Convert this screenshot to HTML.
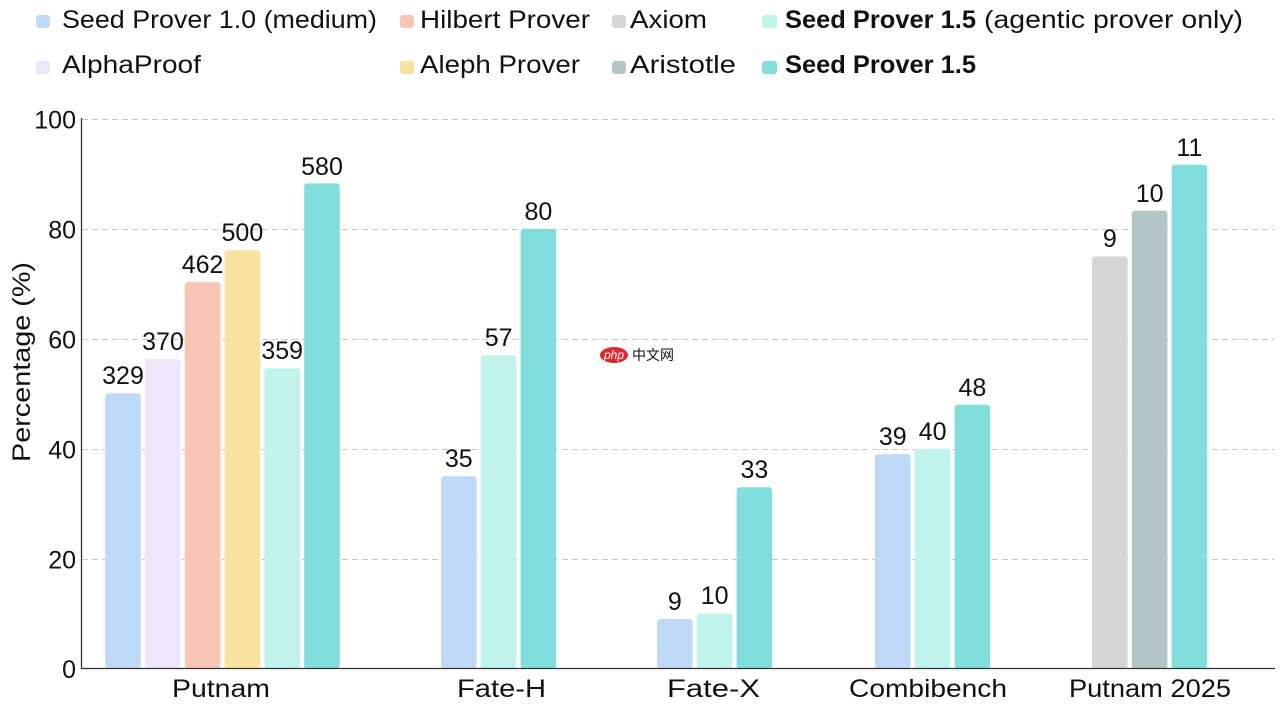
<!DOCTYPE html>
<html><head><meta charset="utf-8"><style>
html,body{margin:0;padding:0;background:#fff;}
svg{display:block;}
text{font-family:"Liberation Sans","Noto Sans CJK SC",sans-serif;fill:#111;}
</style></head><body>
<svg width="1280" height="712" viewBox="0 0 1280 712" xmlns="http://www.w3.org/2000/svg">
<!-- Legend -->
<g font-size="25">
<rect x="36" y="15" width="14" height="13" rx="3" fill="#bfd9f8"/>
<text x="62" y="28" textLength="315" lengthAdjust="spacingAndGlyphs">Seed Prover 1.0 (medium)</text>
<rect x="400" y="15" width="14" height="13" rx="3" fill="#f9c5b4"/>
<text x="420" y="28" textLength="170" lengthAdjust="spacingAndGlyphs">Hilbert Prover</text>
<rect x="612" y="15" width="14" height="13" rx="3" fill="#d5d5d5"/>
<text x="630" y="28" textLength="77" lengthAdjust="spacingAndGlyphs">Axiom</text>
<rect x="762" y="15" width="15" height="13" rx="3" fill="#c0f3eb"/>
<text x="785" y="28" font-weight="bold" textLength="191" lengthAdjust="spacingAndGlyphs">Seed Prover 1.5</text>
<text x="984" y="28" textLength="259" lengthAdjust="spacingAndGlyphs">(agentic prover only)</text>

<rect x="36" y="61" width="14" height="13" rx="3" fill="#ebe6fb"/>
<text x="62" y="73" textLength="139" lengthAdjust="spacingAndGlyphs">AlphaProof</text>
<rect x="400" y="61" width="14" height="13" rx="3" fill="#f8e29e"/>
<text x="420" y="73" textLength="160" lengthAdjust="spacingAndGlyphs">Aleph Prover</text>
<rect x="612" y="61" width="14" height="13" rx="3" fill="#b3c6c8"/>
<text x="630" y="73" textLength="106" lengthAdjust="spacingAndGlyphs">Aristotle</text>
<rect x="762" y="61" width="15" height="13" rx="3" fill="#80dedd"/>
<text x="785" y="73" font-weight="bold" textLength="191" lengthAdjust="spacingAndGlyphs">Seed Prover 1.5</text>
</g>

<!-- Gridlines -->
<g stroke="#c8c8c8" stroke-width="1" stroke-dasharray="6,4">
<line x1="82" y1="119.5" x2="1274" y2="119.5"/>
<line x1="82" y1="229.5" x2="1274" y2="229.5"/>
<line x1="82" y1="339.5" x2="1274" y2="339.5"/>
<line x1="82" y1="449.5" x2="1274" y2="449.5"/>
<line x1="82" y1="559.5" x2="1274" y2="559.5"/>
</g>

<!-- Bars -->
<g>
<!-- Putnam -->
<rect x="105.2" y="393.3" width="35.6" height="275.2" rx="3" fill="#bfd9f8"/>
<rect x="145" y="359.0" width="35.6" height="309.5" rx="3" fill="#efe6fc"/>
<rect x="184.8" y="282.1" width="35.6" height="386.4" rx="3" fill="#f9c5b4"/>
<rect x="224.6" y="250.3" width="35.6" height="418.2" rx="3" fill="#f8e29e"/>
<rect x="264.4" y="368.3" width="35.6" height="300.2" rx="3" fill="#c0f3eb"/>
<rect x="304.2" y="183.4" width="35.6" height="485.1" rx="3" fill="#80dedd"/>
<!-- Fate-H -->
<rect x="441" y="476.2" width="35.6" height="192.3" rx="3" fill="#bfd9f8"/>
<rect x="480.8" y="355.3" width="35.6" height="313.2" rx="3" fill="#c0f3eb"/>
<rect x="520.6" y="228.9" width="35.6" height="439.6" rx="3" fill="#80dedd"/>
<!-- Fate-X -->
<rect x="657" y="619.0" width="35.6" height="49.5" rx="3" fill="#bfd9f8"/>
<rect x="696.8" y="613.6" width="35.6" height="54.9" rx="3" fill="#c0f3eb"/>
<rect x="736.6" y="487.2" width="35.6" height="181.3" rx="3" fill="#80dedd"/>
<!-- Combibench -->
<rect x="875" y="454.2" width="35.6" height="214.3" rx="3" fill="#bfd9f8"/>
<rect x="914.8" y="448.7" width="35.6" height="219.8" rx="3" fill="#c0f3eb"/>
<rect x="954.6" y="404.7" width="35.6" height="263.8" rx="3" fill="#80dedd"/>
<!-- Putnam 2025 -->
<rect x="1092" y="256.4" width="35.6" height="412.1" rx="3" fill="#d5d5d5"/>
<rect x="1131.8" y="210.6" width="35.6" height="457.9" rx="3" fill="#b3c6c8"/>
<rect x="1171.6" y="164.8" width="35.6" height="503.7" rx="3" fill="#80dedd"/>
</g>

<!-- Value labels -->
<g font-size="25" text-anchor="middle">
<text x="123" y="384">329</text>
<text x="163" y="350">370</text>
<text x="202.6" y="273">462</text>
<text x="242.4" y="241">500</text>
<text x="282.2" y="359">359</text>
<text x="322" y="175">580</text>
<text x="458.8" y="467">35</text>
<text x="498.6" y="346">57</text>
<text x="538.4" y="220">80</text>
<text x="674.8" y="610">9</text>
<text x="714.6" y="604">10</text>
<text x="754.4" y="478">33</text>
<text x="892.8" y="445">39</text>
<text x="932.6" y="440">40</text>
<text x="972.4" y="396">48</text>
<text x="1109.8" y="247">9</text>
<text x="1149.6" y="202">10</text>
<text x="1189.4" y="156">11</text>
</g>

<!-- Axes -->
<line x1="81.5" y1="118" x2="81.5" y2="669" stroke="#333" stroke-width="1.3"/>
<line x1="81" y1="668.5" x2="1275" y2="668.5" stroke="#333" stroke-width="1.3"/>

<!-- Y ticks -->
<g font-size="25" text-anchor="end">
<text x="76" y="128.5">100</text>
<text x="76" y="238.5">80</text>
<text x="76" y="348.5">60</text>
<text x="76" y="458.5">40</text>
<text x="76" y="568.5">20</text>
<text x="76" y="678">0</text>
</g>
<text font-size="25" text-anchor="middle" transform="translate(30,362) rotate(-90)" textLength="200" lengthAdjust="spacingAndGlyphs">Percentage (%)</text>

<!-- X labels -->
<g font-size="25">
<text x="172" y="697" textLength="98" lengthAdjust="spacingAndGlyphs">Putnam</text>
<text x="457" y="697" textLength="89" lengthAdjust="spacingAndGlyphs">Fate-H</text>
<text x="667" y="697" textLength="93" lengthAdjust="spacingAndGlyphs">Fate-X</text>
<text x="849" y="697" textLength="158" lengthAdjust="spacingAndGlyphs">Combibench</text>
<text x="1069" y="697" textLength="162" lengthAdjust="spacingAndGlyphs">Putnam 2025</text>
</g>

<!-- Watermark -->
<ellipse cx="614" cy="355" rx="14" ry="8" fill="#e0282a"/>
<text x="614" y="359" font-size="12" font-style="italic" text-anchor="middle" style="fill:#fff">php</text>
<text x="632" y="360" font-size="14" style="fill:#111">中文网</text>
</svg>
</body></html>
